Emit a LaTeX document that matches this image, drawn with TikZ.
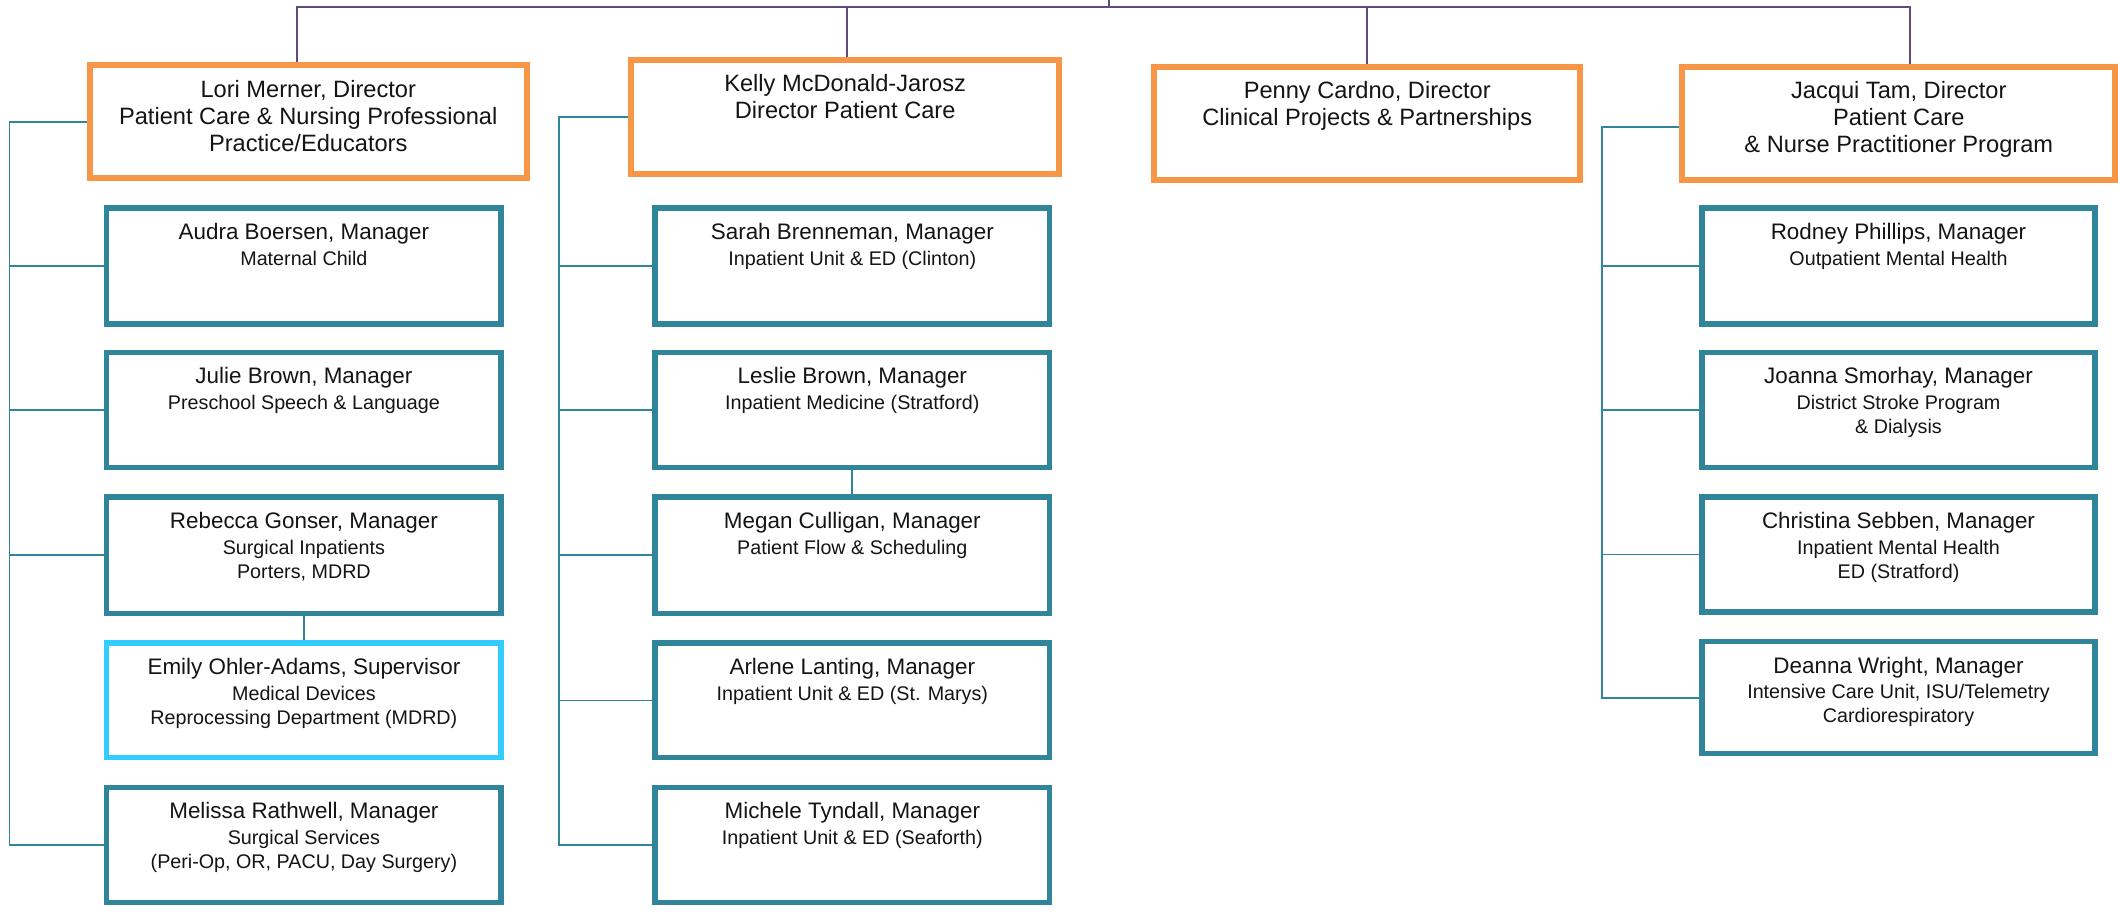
\documentclass[tikz,border=0pt]{standalone}
\usepackage{fontspec}
\setmainfont{Liberation Sans}
\definecolor{orgc}{RGB}{247,150,70}
\definecolor{tealc}{RGB}{49,133,155}
\definecolor{skyc}{RGB}{51,204,255}
\definecolor{purc}{RGB}{96,74,123}
\definecolor{txtc}{RGB}{20,20,20}
\newcommand\nm[1]{{\fontsize{16.6}{20}\selectfont #1}}
% #1 style, #2 name, #3 x1, #4 y1, #5 x2, #6 y2 (centre line of border), #7 text style, #8 text
\newcommand\bx[8]{%
  \node[#1, minimum width={#5-#3}, minimum height={#6-#4}] (#2) at (#3,#4) {};
  \node[#7] (#2t) at ([yshift=-13pt]#2.north) {#8};
}
\begin{document}
\begin{tikzpicture}[x=1pt,y=-1pt,
  boxbase/.style={rectangle, inner sep=0pt, fill=white, anchor=north west},
  dirbox/.style={boxbase, draw=orgc, line width=4.4pt},
  mgrbox/.style={boxbase, draw=tealc, line width=4pt},
  supbox/.style={boxbase, draw=skyc, line width=4pt},
  dirtext/.style={anchor=north, align=center, inner sep=0pt, text=txtc, font=\fontsize{17.5}{20}\selectfont},
  mgrtext/.style={anchor=north, align=center, inner sep=0pt, text=txtc, font=\fontsize{14.6}{18}\selectfont},
  purline/.style={draw=purc, line width=1.4pt},
  tealline/.style={draw=tealc, line width=1.3pt},
]
\useasboundingbox (0,0) rectangle (1568,678);

% directors
\bx{dirbox}{lori}{64.2}{46.2}{387.8}{129.8}{dirtext}{Lori Merner, Director\\Patient Care \& Nursing Professional\\Practice/Educators}
\bx{dirbox}{kelly}{465.2}{42.2}{781.8}{126.8}{dirtext}{Kelly McDonald-Jarosz\\Director Patient Care}
\bx{dirbox}{penny}{852.2}{47.2}{1167.8}{130.8}{dirtext}{Penny Cardno, Director\\Clinical Projects \& Partnerships}
\bx{dirbox}{jacqui}{1243.2}{47.2}{1563.8}{130.8}{dirtext}{Jacqui Tam, Director\\Patient Care\\\& Nurse Practitioner Program}

% left column
\bx{mgrbox}{audra}{77}{152}{369}{238}{mgrtext}{\nm{Audra Boersen, Manager}\\[1pt]Maternal Child}
\bx{mgrbox}{julie}{77}{259}{369}{344}{mgrtext}{\nm{Julie Brown, Manager}\\[1pt]Preschool Speech \& Language}
\bx{mgrbox}{rebecca}{77}{366}{369}{452}{mgrtext}{\nm{Rebecca Gonser, Manager}\\[1pt]Surgical Inpatients\\Porters, MDRD}
\bx{supbox}{emily}{77}{474}{369}{559}{mgrtext}{\nm{Emily Ohler-Adams, Supervisor}\\[1pt]Medical Devices\\Reprocessing Department (MDRD)}
\bx{mgrbox}{melissa}{77}{581}{369}{666}{mgrtext}{\nm{Melissa Rathwell, Manager}\\[1pt]Surgical Services\\(Peri-Op, OR, PACU, Day Surgery)}

% middle column
\bx{mgrbox}{sarah}{483}{152}{775}{238}{mgrtext}{\nm{Sarah Brenneman, Manager}\\[1pt]Inpatient Unit \& ED (Clinton)}
\bx{mgrbox}{leslie}{483}{259}{775}{344}{mgrtext}{\nm{Leslie Brown, Manager}\\[1pt]Inpatient Medicine (Stratford)}
\bx{mgrbox}{megan}{483}{366}{775}{452}{mgrtext}{\nm{Megan Culligan, Manager}\\[1pt]Patient Flow \& Scheduling}
\bx{mgrbox}{arlene}{483}{474}{775}{559}{mgrtext}{\nm{Arlene Lanting, Manager}\\[1pt]Inpatient Unit \& ED (St. Marys)}
\bx{mgrbox}{michele}{483}{581}{775}{666}{mgrtext}{\nm{Michele Tyndall, Manager}\\[1pt]Inpatient Unit \& ED (Seaforth)}

% right column
\bx{mgrbox}{rodney}{1258}{152}{1549}{238}{mgrtext}{\nm{Rodney Phillips, Manager}\\[1pt]Outpatient Mental Health}
\bx{mgrbox}{joanna}{1258}{259}{1549}{344}{mgrtext}{\nm{Joanna Smorhay, Manager}\\[1pt]District Stroke Program\\\& Dialysis}
\bx{mgrbox}{christina}{1258}{366}{1549}{451}{mgrtext}{\nm{Christina Sebben, Manager}\\[1pt]Inpatient Mental Health\\ED (Stratford)}
\bx{mgrbox}{deanna}{1258}{473}{1549}{556}{mgrtext}{\nm{Deanna Wright, Manager}\\[1pt]Intensive Care Unit, ISU/Telemetry\\Cardiorespiratory}

% top purple connectors
\coordinate (hub) at (821,5);
\draw[purline] (hub) -- ++(0,-5);
\draw[purline] ([xshift=-8pt]lori.north) |- ([xshift=8pt]jacqui.north |- hub) -- ([xshift=8pt]jacqui.north);
\draw[purline] ([xshift=1.5pt]kelly.north) -- ([xshift=1.5pt]kelly.north |- hub);
\draw[purline] (penny.north) -- (penny.north |- hub);

% left bus
\coordinate (busL) at (7,0);
\draw[tealline] (lori.west) -- (lori.west -| busL) -- (melissa.west -| busL) -- (melissa.west);
\foreach \n in {audra,julie,rebecca}{\draw[tealline] (\n.west -| busL) -- (\n.west);}
\draw[tealline] (rebecca.south) -- (emily.north);

% middle bus
\coordinate (busM) at (414,0);
\draw[tealline] (kelly.west) -- (kelly.west -| busM) -- (michele.west -| busM) -- (michele.west);
\foreach \n in {sarah,leslie,megan,arlene}{\draw[tealline] (\n.west -| busM) -- (\n.west);}
\draw[tealline] (leslie.south) -- (megan.north);

% right bus
\coordinate (busR) at (1186,0);
\draw[tealline] ([yshift=-3pt]jacqui.west) -- ([yshift=-3pt]jacqui.west -| busR) -- (deanna.west -| busR) -- (deanna.west);
\foreach \n in {rodney,joanna,christina}{\draw[tealline] (\n.west -| busR) -- (\n.west);}
\end{tikzpicture}
\end{document}
